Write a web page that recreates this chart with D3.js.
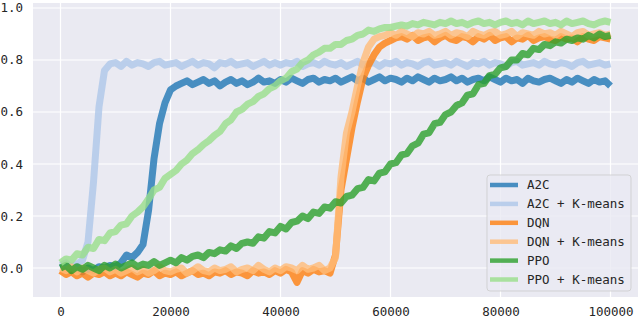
<!DOCTYPE html>
<html>
<head>
<meta charset="utf-8">
<script src="https://cdn.jsdelivr.net/npm/d3@7"></script>
<style>
  body { margin: 0; background: #fff; }
  svg { display: block; }
</style>
</head>
<body>
<div id="chart"></div>
<script>
// training steps, sampled every 1000
const steps = d3.range(0, 100001, 1000);

const a2c = [
  0.0, 0.01, -0.01, 0.005, -0.015, 0.0, -0.01, 0.005, 0.0, 0.01,
  0.005, 0.02, 0.05, 0.04, 0.06, 0.09, 0.22, 0.42, 0.555, 0.635,
  0.685, 0.70, 0.71, 0.72, 0.705, 0.715, 0.725, 0.71, 0.72, 0.70,
  0.715, 0.725, 0.71, 0.72, 0.705, 0.715, 0.73, 0.715, 0.72, 0.71,
  0.725, 0.715, 0.73, 0.72, 0.71, 0.725, 0.73, 0.715, 0.725, 0.72,
  0.73, 0.715, 0.725, 0.735, 0.72, 0.73, 0.715, 0.725, 0.735, 0.72,
  0.73, 0.725, 0.715, 0.73, 0.72, 0.735, 0.725, 0.715, 0.73, 0.72,
  0.725, 0.735, 0.72, 0.73, 0.715, 0.725, 0.73, 0.72, 0.735, 0.725,
  0.715, 0.73, 0.72, 0.725, 0.71, 0.73, 0.72, 0.715, 0.725, 0.73,
  0.72, 0.71, 0.725, 0.715, 0.73, 0.72, 0.71, 0.725, 0.715, 0.72, 0.70
];

const a2cKmeans = [
  0.01, 0.02, 0.0, 0.015, 0.03, 0.10, 0.33, 0.62, 0.76, 0.785,
  0.79, 0.775, 0.795, 0.78, 0.79, 0.785, 0.775, 0.79, 0.795, 0.78,
  0.785, 0.79, 0.775, 0.785, 0.795, 0.78, 0.79, 0.785, 0.77, 0.79,
  0.785, 0.795, 0.78, 0.785, 0.79, 0.775, 0.785, 0.795, 0.78, 0.79,
  0.78, 0.79, 0.785, 0.795, 0.775, 0.785, 0.79, 0.78, 0.795, 0.785,
  0.78, 0.79, 0.775, 0.785, 0.795, 0.78, 0.785, 0.79, 0.775, 0.79,
  0.785, 0.795, 0.78, 0.79, 0.785, 0.775, 0.79, 0.795, 0.78, 0.785,
  0.79, 0.78, 0.795, 0.785, 0.775, 0.79, 0.785, 0.795, 0.78, 0.79,
  0.785, 0.775, 0.79, 0.795, 0.78, 0.785, 0.79, 0.78, 0.795, 0.785,
  0.78, 0.79, 0.785, 0.775, 0.79, 0.795, 0.78, 0.785, 0.79, 0.78, 0.785
];

const dqn = [
  -0.01, -0.025, -0.015, -0.03, -0.02, -0.035, -0.02, -0.025, -0.015, -0.03,
  -0.02, -0.03, -0.015, -0.025, -0.035, -0.02, -0.025, -0.01, -0.03, -0.02,
  -0.025, -0.015, -0.03, -0.02, -0.01, -0.025, -0.02, -0.03, -0.015, -0.02,
  -0.01, -0.025, -0.015, -0.02, -0.03, -0.01, -0.02, -0.015, -0.025, -0.01,
  -0.02, -0.005, -0.015, -0.055, -0.01, -0.02, -0.005, -0.015, -0.01, -0.02,
  0.05, 0.30, 0.42, 0.54, 0.64, 0.73, 0.78, 0.82, 0.85, 0.865,
  0.875, 0.885, 0.89, 0.88, 0.895, 0.875, 0.885, 0.89, 0.87, 0.885,
  0.895, 0.88, 0.875, 0.89, 0.885, 0.87, 0.89, 0.88, 0.895, 0.875,
  0.885, 0.89, 0.87, 0.885, 0.88, 0.895, 0.875, 0.885, 0.89, 0.88,
  0.875, 0.89, 0.88, 0.885, 0.87, 0.89, 0.88, 0.875, 0.89, 0.885, 0.88
];

const dqnKmeans = [
  0.0, -0.01, 0.005, -0.015, 0.0, -0.01, -0.02, -0.005, 0.0, -0.015,
  -0.005, -0.02, -0.01, 0.0, -0.015, -0.005, -0.02, -0.01, 0.005, -0.01,
  -0.015, -0.005, 0.0, -0.02, -0.01, 0.005, -0.01, -0.015, 0.0, -0.01,
  -0.005, 0.005, -0.015, -0.005, 0.0, -0.01, 0.01, -0.005, -0.015, 0.0,
  -0.01, 0.005, 0.0, -0.01, 0.01, -0.005, 0.0, 0.01, -0.01, 0.0,
  0.04, 0.35, 0.52, 0.60, 0.70, 0.79, 0.85, 0.88, 0.89, 0.895,
  0.905, 0.895, 0.91, 0.9, 0.89, 0.905, 0.9, 0.91, 0.895, 0.9,
  0.91, 0.895, 0.905, 0.9, 0.89, 0.91, 0.9, 0.895, 0.905, 0.91,
  0.895, 0.9, 0.91, 0.89, 0.905, 0.9, 0.895, 0.91, 0.9, 0.905,
  0.895, 0.91, 0.9, 0.89, 0.905, 0.91, 0.895, 0.9, 0.905, 0.895, 0.9
];

const ppo = [
  0.0, 0.01, -0.01, 0.005, -0.005, 0.01, 0.0, -0.01, 0.01, 0.0,
  0.015, 0.0, 0.01, 0.02, 0.005, 0.015, 0.01, 0.025, 0.01, 0.02,
  0.03, 0.02, 0.04, 0.03, 0.045, 0.05, 0.04, 0.06, 0.055, 0.07,
  0.065, 0.085, 0.075, 0.095, 0.1, 0.095, 0.12, 0.115, 0.14, 0.135,
  0.16, 0.15, 0.175, 0.18, 0.2, 0.19, 0.215, 0.21, 0.235, 0.23,
  0.255, 0.25, 0.275, 0.28, 0.305, 0.31, 0.34, 0.335, 0.365, 0.37,
  0.4, 0.405, 0.435, 0.44, 0.47, 0.48, 0.515, 0.52, 0.555, 0.56,
  0.59, 0.6, 0.625, 0.635, 0.665, 0.67, 0.705, 0.71, 0.74, 0.745,
  0.77, 0.775, 0.8, 0.8, 0.825, 0.82, 0.845, 0.84, 0.86, 0.855,
  0.87, 0.865, 0.88, 0.875, 0.885, 0.88, 0.895, 0.885, 0.9, 0.89, 0.895
];

const ppoKmeans = [
  0.02, 0.035, 0.03, 0.055, 0.05, 0.08, 0.075, 0.11, 0.105, 0.135,
  0.14, 0.165, 0.17, 0.2, 0.215, 0.235, 0.265, 0.3, 0.31, 0.345,
  0.36, 0.375, 0.4, 0.415, 0.44, 0.455, 0.475, 0.49, 0.51, 0.525,
  0.555, 0.57, 0.6, 0.61, 0.63, 0.64, 0.66, 0.67, 0.69, 0.7,
  0.72, 0.73, 0.755, 0.765, 0.79, 0.8, 0.82, 0.83, 0.845, 0.845,
  0.86, 0.86, 0.875, 0.88, 0.895, 0.9, 0.915, 0.91, 0.92, 0.925,
  0.925, 0.93, 0.935, 0.93, 0.94, 0.935, 0.945, 0.94, 0.935, 0.945,
  0.94, 0.95, 0.94, 0.945, 0.935, 0.945, 0.95, 0.94, 0.945, 0.935,
  0.945, 0.95, 0.94, 0.945, 0.935, 0.95, 0.94, 0.945, 0.95, 0.94,
  0.945, 0.935, 0.95, 0.94, 0.945, 0.95, 0.94, 0.935, 0.945, 0.95, 0.945
];

const seriesNames = ["A2C", "A2C + K-means", "DQN", "DQN + K-means", "PPO", "PPO + K-means"];
const seriesValues = [a2c, a2cKmeans, dqn, dqnKmeans, ppo, ppoKmeans];
const seriesColors = ["#1f77b4", "#aec7e8", "#ff7f0e", "#ffbb78", "#2ca02c", "#98df8a"];

const xTicks = [0, 20000, 40000, 60000, 80000, 100000];
const yTicks = [0.0, 0.2, 0.4, 0.6, 0.8, 1.0];

const W = 640, H = 320;
const plot = { left: 33, right: 638, top: 3, bottom: 297 };
const font = "'DejaVu Sans Mono', monospace";

const svg = d3.select("#chart")
  .append("svg")
  .attr("width", W)
  .attr("height", H);

const x = d3.scaleLinear().domain([-5000, 105000]).range([plot.left, plot.right]);
const y = d3.scaleLinear().domain([-0.1115, 1.0192]).range([plot.bottom, plot.top]);

// axes background
svg.append("rect")
  .attr("x", plot.left)
  .attr("y", plot.top)
  .attr("width", plot.right - plot.left)
  .attr("height", plot.bottom - plot.top)
  .attr("fill", "#eaeaf2");

svg.append("clipPath")
  .attr("id", "clip")
  .append("rect")
  .attr("x", plot.left)
  .attr("y", plot.top)
  .attr("width", plot.right - plot.left)
  .attr("height", plot.bottom - plot.top);

// grid lines
svg.append("g")
  .selectAll("line")
  .data(xTicks)
  .enter()
  .append("line")
  .attr("x1", d => x(d)).attr("x2", d => x(d))
  .attr("y1", plot.top).attr("y2", plot.bottom)
  .attr("stroke", "#fff")
  .attr("stroke-width", 1.2);

svg.append("g")
  .selectAll("line")
  .data(yTicks)
  .enter()
  .append("line")
  .attr("x1", plot.left).attr("x2", plot.right)
  .attr("y1", d => y(d)).attr("y2", d => y(d))
  .attr("stroke", "#fff")
  .attr("stroke-width", 1.2);

// tick labels through d3 axes, without domain and tick marks
const xAxis = svg.append("g")
  .attr("transform", `translate(0,${plot.bottom})`)
  .call(d3.axisBottom(x).tickValues(xTicks).tickFormat(d3.format("d")).tickSize(0).tickPadding(10));

const yAxis = svg.append("g")
  .attr("transform", `translate(${plot.left},0)`)
  .call(d3.axisLeft(y).tickValues(yTicks).tickFormat(d3.format(".1f")).tickSize(0).tickPadding(10));

[xAxis, yAxis].forEach(a => {
  a.select(".domain").remove();
  a.selectAll("text")
    .attr("font-family", font)
    .attr("font-size", 12.5)
    .attr("fill", "#262626");
});

// the learning curves
const line = d3.line()
  .x((d, i) => x(steps[i]))
  .y(d => y(d));

svg.append("g")
  .attr("clip-path", "url(#clip)")
  .selectAll("path")
  .data(seriesValues)
  .enter()
  .append("path")
  .attr("d", d => line(d))
  .attr("fill", "none")
  .attr("stroke", (d, i) => seriesColors[i])
  .attr("stroke-opacity", 0.8)
  .attr("stroke-width", 7)
  .attr("stroke-linejoin", "round")
  .attr("stroke-linecap", "butt");

// legend
const legend = svg.append("g");

legend.append("rect")
  .attr("x", 487)
  .attr("y", 175)
  .attr("width", 144)
  .attr("height", 116)
  .attr("rx", 3)
  .attr("fill", "#eaeaf2")
  .attr("fill-opacity", 0.8)
  .attr("stroke", "#cccccc")
  .attr("stroke-opacity", 0.8);

let rows = legend.selectAll("g.row")
  .data(seriesNames)
  .enter()
  .append("g")
  .attr("class", "row")
  .attr("transform", (d, i) => `translate(490,${185 + i * 18.9})`);

rows.append("line")
  .attr("x1", 0).attr("x2", 28)
  .attr("y1", 0).attr("y2", 0)
  .attr("stroke", (d, i) => seriesColors[i])
  .attr("stroke-opacity", 0.8)
  .attr("stroke-width", 4.5);

rows.append("text")
  .attr("x", 37)
  .attr("y", 0)
  .attr("dy", "0.35em")
  .attr("font-family", font)
  .attr("font-size", 12.5)
  .attr("fill", "#262626")
  .text(d => d);
</script>
</body>
</html>
